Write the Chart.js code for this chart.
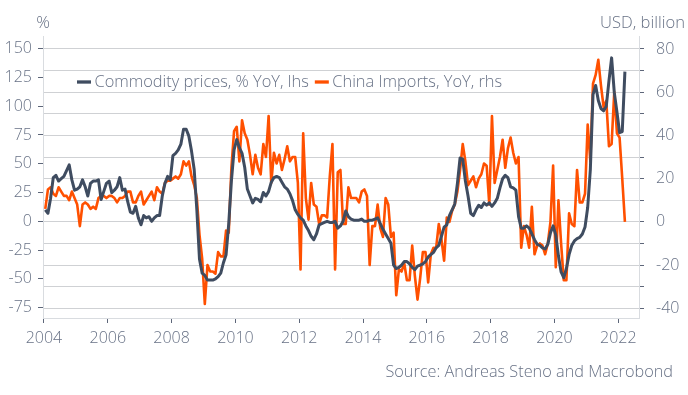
<!DOCTYPE html>
<html><head><meta charset="utf-8">
<script src="https://cdn.jsdelivr.net/npm/chart.js@4.4.0/dist/chart.umd.min.js"></script>
<style>html,body{margin:0;padding:0;background:#fff;}canvas{display:block}</style>
</head><body>
<canvas id="c" width="688" height="395"></canvas>
<script>
// ---- data (monthly, starting Jan 2004) ----
const startYear = 2004;
const commodityLabel = 'Commodity prices, % YoY, lhs';
const importsLabel = 'China Imports, YoY, rhs';
const leftTitle = '%';
const rightTitle = 'USD, billion';
const sourceText = 'Source: Andreas Steno and Macrobond';

const commodity = [
 10, 7, 20, 38, 40, 35, 37, 39, 44, 49, 36, 27,
 28, 30, 36, 30, 22, 33, 35, 35, 36, 19, 26, 33,
 35, 25, 27, 30, 38, 27, 28, 17, 8, 7, 13, 3,
 -3, 5, 3, 4, 0, 3, 5, 5, 22, 33, 39, 36,
 57, 59, 62, 67, 80, 80, 74, 61, 45, 10, -33, -45,
 -47, -51, -51, -51, -50, -48, -45, -36, -29, -2, 35, 62,
 71, 64, 59, 47, 28, 22, 16, 20, 19, 17, 25, 22,
 26, 34, 38, 39, 38, 34, 30, 28, 24, 18, 10, 6,
 3, 1, -4, -8, -13, -16, -11, -3, -2, -1, 0, -1,
 -1, 0, -6, -4, 0, 9, 4, 2, 1, 1, 1, 2,
 0, 0, 1, 1, 2, 3, -2, -7, -11, -15, -19, -38,
 -41, -40, -38, -35, -35, -37, -40, -42, -39, -38, -37, -35,
 -31, -29, -27, -23, -21, -13, -5, -3, 5, 10, 15, 33,
 55, 54, 35, 22, 7, 5, 10, 14, 12, 16, 14, 16,
 13, 16, 20, 29, 37, 40, 38, 30, 29, 27, 4, -6,
 -6, -4, -6, -11, -16, -20, -21, -23, -24, -20, -10, -4,
 -12, -30, -44, -49, -41, -29, -21, -17, -15, -14, -11, -5,
 12, 45, 110, 118, 105, 98, 96, 100, 122, 142, 112, 95,
 77, 78, 130
];

const chinaImports = [
 6, 15, 16, 13, 12, 16, 14, 12, 12, 10, 14, 11,
 8, -2, 8, 9, 8, 6, 7, 6, 11, 12, 12, 11,
 12, 12, 11, 9, 11, 11, 12, 14, 14, 9, 9, 12,
 14, 8, 10, 12, 14, 10, 16, 14, 13, 18, 19, 19,
 20, 21, 20, 22, 28, 26, 28, 21, 17, 11, -6, -17,
 -38, -20, -23, -23, -24, -14, -16, -16, -4, -5, 25, 42,
 44, 28, 47, 41, 38, 31, 22, 31, 25, 22, 36, 30,
 49, 18, 32, 27, 31, 24, 29, 35, 28, 30, 30, 18,
 -22, 41, 11, 1, 18, 8, 7, -1, 3, 3, 2, 21,
 36, -22, 23, 24, -1, -1, 16, 11, 11, 11, 9, 14,
 15, 12, -20, -2, -2, 8, -3, -7, 11, 8, -7, -5,
 -34, -22, -23, -19, -27, -27, -11, -25, -36, -26, -14, -14,
 -28, -15, -12, -12, -1, -8, -18, 2, 0, 5, 8, 14,
 24, 36, 28, 17, 19, 21, 16, 20, 22, 27, 26, 8,
 49, 18, 24, 30, 38, 25, 34, 39, 32, 27, 30, -12,
 -2, -6, -12, 7, -15, -11, -10, -11, -15, -10, 0, 26,
 -21, 10, -10, -27, -27, 4, -1, -2, 24, 9, 9, 13,
 45, 28, 64, 68, 75, 63, 53, 56, 35, 36, 60, 41,
 39, 20, 0
];

const xTickYears = [2004, 2006, 2008, 2010, 2012, 2014, 2016, 2018, 2020, 2022];
const leftTicks = [-75, -50, -25, 0, 25, 50, 75, 100, 125, 150];
const rightTicks = [-40, -30, -20, -10, 0, 10, 20, 30, 40, 50, 60, 70, 80];
const rightLabelled = [-40, -20, 0, 20, 40, 60, 80];

// ---- build ----
const monthX = i => startYear + (i + 0.5) / 12;
const toPoints = arr => arr.map((v, i) => ({x: monthX(i), y: v}));

const FONT = '"Open Sans", "DejaVu Sans", sans-serif';
const TEXT = '#687286';
const TICKC = '#5d6679';
const AXISC = '#d9dce0';
const tickFont = {family: FONT, size: 16, weight: '300'};

const overlay = {
  id: 'overlay',
  afterDraw(chart) {
    const {ctx, chartArea: a} = chart;
    ctx.save();
    ctx.fillStyle = TEXT;
    ctx.textBaseline = 'middle';
    ctx.font = `300 17px ${FONT}`;
    ctx.textAlign = 'center';
    ctx.fillText(leftTitle, a.left, 23);
    ctx.textAlign = 'right';
    ctx.font = `300 16.6px ${FONT}`;
    ctx.fillText(rightTitle, chart.width - 3, 23);
    ctx.font = `300 16.3px ${FONT}`;
    ctx.fillText(sourceText, chart.width - 15, 372);
    // legend
    ctx.font = `300 16.4px ${FONT}`;
    let x = a.left + 34;
    const y = 82;
    chart.data.datasets.forEach(ds => {
      ctx.strokeStyle = ds.borderColor;
      ctx.lineWidth = 3.3;
      ctx.beginPath(); ctx.moveTo(x, y); ctx.lineTo(x + 14, y); ctx.stroke();
      x += 17.5;
      ctx.textAlign = 'left';
      ctx.fillText(ds.label, x, y);
      x += ctx.measureText(ds.label).width + 6;
    });
    ctx.restore();
  }
};

new Chart(document.getElementById('c'), {
  type: 'line',
  data: {
    datasets: [
      {label: commodityLabel, data: toPoints(commodity), yAxisID: 'y', borderColor: '#3f4c60',
       borderWidth: 3, pointRadius: 0, tension: 0, borderJoinStyle: 'round', order: 0},
      {label: importsLabel, data: toPoints(chinaImports), yAxisID: 'y1', borderColor: '#ff5000',
       borderWidth: 2.6, pointRadius: 0, tension: 0, borderJoinStyle: 'round', order: 1}
    ]
  },
  options: {
    responsive: false,
    animation: false,
    devicePixelRatio: 1,
    layout: {padding: {top: 36, left: 0, right: 0, bottom: 0}},
    plugins: {legend: {display: false}, tooltip: {enabled: false}},
    scales: {
      x: {
        type: 'linear', min: 2003.97, max: 2022.65,
        afterBuildTicks: s => { s.ticks = xTickYears.map(v => ({value: v})); },
        afterFit: s => { s.height = 77; },
        ticks: {callback: v => String(v), font: tickFont, color: TEXT, padding: 6, maxRotation: 0, autoSkip: false},
        grid: {drawOnChartArea: false, tickLength: 5, tickColor: TICKC},
        border: {color: AXISC}
      },
      y: {
        position: 'left', min: -84, max: 161,
        afterBuildTicks: s => { s.ticks = leftTicks.map(v => ({value: v})); },
        afterFit: s => { s.width = 43; },
        ticks: {font: tickFont, color: TEXT, padding: 6, autoSkip: false},
        grid: {drawOnChartArea: false, tickLength: 5, tickColor: TICKC},
        border: {color: AXISC}
      },
      y1: {
        position: 'right', min: -44.5, max: 86,
        afterBuildTicks: s => { s.ticks = rightTicks.map(v => ({value: v})); },
        afterFit: s => { s.width = 49; },
        ticks: {font: tickFont, color: TEXT, padding: 12, autoSkip: false,
                callback: v => rightLabelled.includes(v) ? String(v) : ''},
        grid: {drawOnChartArea: true, color: '#cfd1d4', lineWidth: 1, tickLength: 5, tickColor: TICKC},
        border: {color: AXISC}
      }
    }
  },
  plugins: [overlay]
});
</script>
</body></html>
